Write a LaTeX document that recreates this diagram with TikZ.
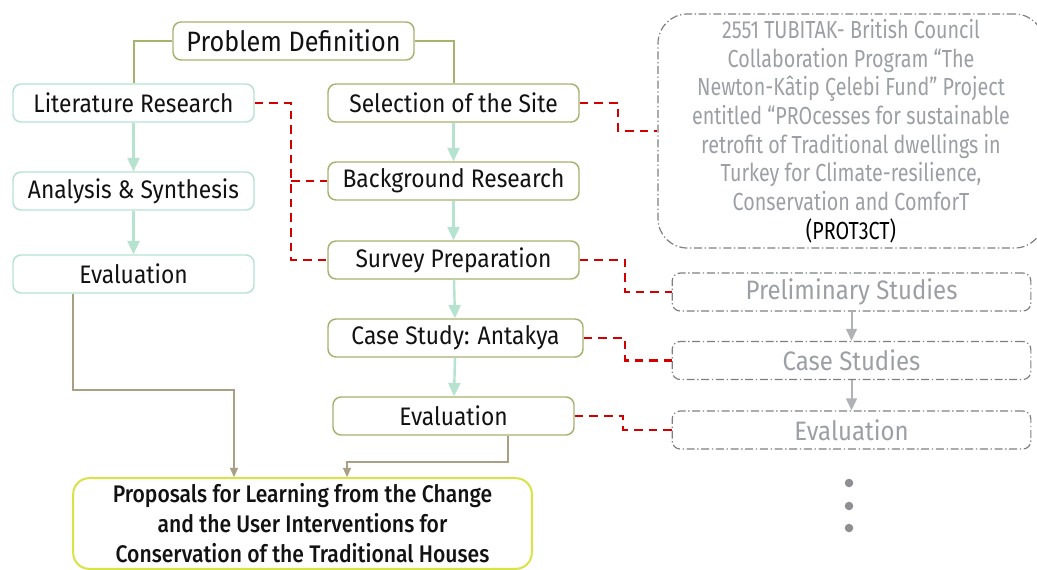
\documentclass[tikz,border=0pt]{standalone}
\usepackage{fontspec}
\setmainfont{Fira Sans}[FakeStretch=0.9]
\newfontfamily\narrowfont{Fira Sans}[FakeStretch=0.8]
\newfontfamily\propfont{Fira Sans Medium}[FakeStretch=0.88]
\usetikzlibrary{arrows.meta}
\definecolor{linkolive}{HTML}{A7B26E}
\definecolor{mintline}{HTML}{B5E3CF}
\definecolor{propyellow}{HTML}{D8E346}
\definecolor{taupe}{HTML}{A89F84}
\definecolor{dashred}{HTML}{D40000}
\definecolor{projgray}{HTML}{9C9FA3}
\tikzset{
  stage/.style={draw=linkolive, line width=1.1pt, rounded corners=6pt, fill=white,
    minimum height=28.5pt, inner sep=0pt, text=black!93, font=\fontsize{19}{22}\selectfont},
  litstage/.style={stage, draw=mintline, minimum width=180.75pt},
  sitestage/.style={stage, minimum width=188.25pt},
  projstage/.style={draw=projgray!80!black, line width=0.9pt, rounded corners=6pt,
    dash pattern=on 6pt off 2pt on 1pt off 2pt, minimum width=269pt, minimum height=28.5pt,
    inner sep=0pt, text=projgray, font=\fontsize{20}{22}\selectfont},
  olivelink/.style={draw=linkolive, line width=1.5pt},
  mintarrow/.style={draw=mintline, line width=1.8pt, -{Triangle[length=10pt,width=9pt]}},
  taupearrow/.style={draw=taupe, line width=1.1pt, -{Triangle[length=7pt,width=6pt]}},
  grayarrow/.style={draw=projgray!80, line width=1.5pt, -{Triangle[length=9pt,width=8pt]}},
  reddash/.style={draw=dashred, line width=1.8pt, dash pattern=on 6.5pt off 4.5pt}
}
\begin{document}
\begin{tikzpicture}[x=0.75pt, y=-0.75pt]
\useasboundingbox (0,0) rectangle (1037,570);
% left column
\node[stage, minimum width=180.75pt, font=\fontsize{21}{24}\selectfont] (pd) at (293.5,41) {Problem Definition};
\node[litstage] (lit) at (133.5,103) {Literature Research};
\node[litstage] (ana) at (133.5,191) {Analysis \& Synthesis};
\node[litstage] (leval) at (133.5,274) {Evaluation};
% site column
\node[sitestage] (site) at (453.5,103) {Selection of the Site};
\node[sitestage] (bgr) at (453.5,181) {Background Research};
\node[sitestage] (sur) at (453.5,260) {Survey Preparation};
\node[stage, minimum width=191.25pt] (cse) at (455.5,338) {Case Study: Antakya};
\node[stage, minimum width=180.75pt] (meval) at (453.5,416) {Evaluation};
\node[stage, draw=propyellow, line width=1.5pt, rounded corners=12pt, minimum width=344pt, minimum height=68pt,
  align=center, font=\propfont\fontsize{18}{22.5}\selectfont] (prop) at (302.5,523.5)
  {Proposals for Learning from the Change\\and the User Interventions for\\Conservation of the Traditional Houses};
% project column
\node[projstage, rounded corners=22pt, minimum width=289.5pt, minimum height=175.5pt, align=center,
  font=\narrowfont\fontsize{18.5}{21.5}\selectfont] (proj) at (851,131)
  {2551 TUBITAK- British Council\\Collaboration Program “The\\Newton-Kâtip Çelebi Fund” Project\\
   entitled “PROcesses for sustainable\\retrofit of Traditional dwellings in\\Turkey for Climate-resilience,\\
   Conservation and ComforT\\\textcolor{black}{(PROT3CT)}};
\node[projstage] (pre) at (851.5,292) {Preliminary Studies};
\node[projstage] (cas) at (851.5,360.5) {Case Studies};
\node[projstage] (reval) at (851.5,430) {Evaluation};
\foreach \y in {483,506,528}
  \fill[projgray!90!black] (849,\y) circle (3.2pt);

% connectors
\draw[olivelink] (pd.west) -| (lit.north);
\draw[olivelink] (pd.east) -| (site.north);
\draw[mintarrow] (lit) -- (ana);
\draw[mintarrow] (ana) -- (leval);
\draw[mintarrow] (site) -- (bgr);
\draw[mintarrow] (bgr) -- (sur);
\draw[mintarrow] (sur) -- (cse);
\draw[mintarrow] (cse) -- (meval);
\draw[grayarrow] (pre) -- (cas);
\draw[grayarrow] (cas) -- (reval);

\coordinate (bendL) at (73,390);
\coordinate (inL) at (234,0);
\coordinate (bendM) at (508,462);
\coordinate (inM) at (347,0);
\draw[taupearrow] (bendL |- leval.south) -- (bendL) -| (prop.north -| inL);
\draw[taupearrow] (bendM |- meval.south) -- (bendM) -| (prop.north -| inM);

\coordinate (jA) at (291,0);
\coordinate (jB) at (618,0);
\coordinate (jC) at (625,0);
\coordinate (jD) at (625,0);
\coordinate (jE) at (623,0);
\draw[reddash] (lit.east) -| (jA |- sur.west) -- (sur.west);
\draw[reddash] (jA |- bgr.west) -- (bgr.west);
\draw[reddash] (site.east) -| (jB |- proj.west) -- (proj.west);
\draw[reddash] (sur.east) -| (jC |- pre.west) -- (pre.west);
\draw[reddash] (cse.east) -| (jD |- cas.west) -- (cas.west);
\draw[reddash] (meval.east) -| (jE |- reval.west) -- (reval.west);
\end{tikzpicture}
\end{document}
